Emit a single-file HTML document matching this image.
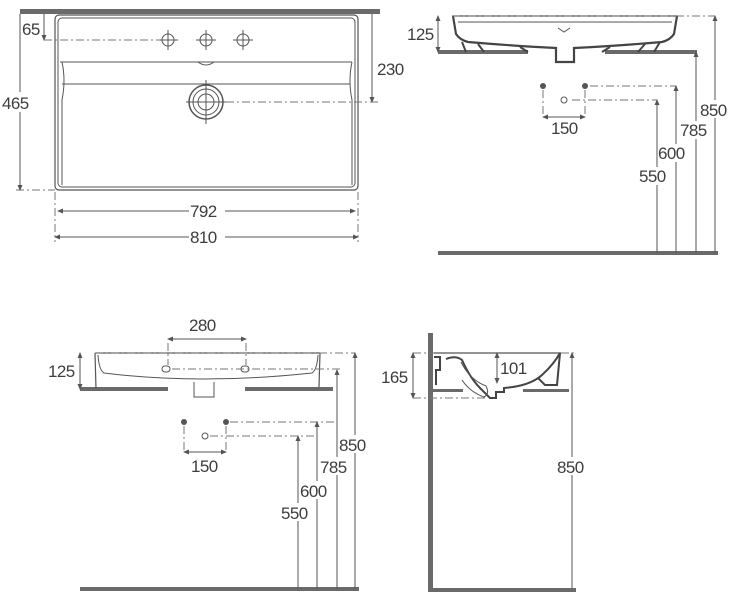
<!DOCTYPE html>
<html><head><meta charset="utf-8"><style>
html,body{margin:0;padding:0;background:#fff}
svg{display:block}
text{font-family:"Liberation Sans",sans-serif;font-size:17px;fill:#3e3e3e;letter-spacing:-0.6px}
.l{stroke:#555;stroke-width:1.2;fill:none}
.t{stroke:#555;stroke-width:1;fill:none}
.d{stroke:#777;stroke-width:1;fill:none;stroke-dasharray:8 3 2 3}
.bar{fill:#6a6a6a}
</style></head><body>
<svg width="734" height="600" viewBox="0 0 734 600" xmlns="http://www.w3.org/2000/svg">
<defs><marker id="a" markerWidth="6" markerHeight="6" refX="5" refY="3" orient="auto-start-reverse"><path d="M0,0.5 L6,3 L0,5.5" fill="#555"/></marker></defs>

<!-- TOP LEFT: plan view -->
<rect class="bar" x="20" y="9" width="360" height="5"/>
<rect class="l" x="55" y="15" width="303" height="175" rx="4"/>
<rect class="t" x="58" y="18" width="297" height="169" rx="4"/>
<path class="t" d="M60,62 L352,62 M62,84 L350,84 M62,62 Q66,80 62,100 L62,185 M352,62 Q348,80 352,100 L352,185"/>
<path class="t" d="M198,62 Q206,68 214,62"/>
<g class="t">
<circle cx="168" cy="40" r="6"/><path d="M158,40h20M168,30v20"/>
<circle cx="206" cy="40" r="6"/><path d="M196,40h20M206,30v20"/>
<circle cx="243" cy="40" r="6"/><path d="M233,40h20M243,30v20"/>
<circle cx="206" cy="102" r="17" stroke-width="1.5"/><circle cx="206" cy="102" r="13"/><circle cx="206" cy="102" r="8"/>
<path d="M186,102h40M206,80v44"/>
</g>
<path class="d" d="M44,40 L160,40 M226,102 L378,102 M16,190 L55,190 M55,192 L55,242 M358,192 L358,242"/>
<line class="t" x1="20" y1="14" x2="20" y2="190" marker-end="url(#a)"/>
<rect x="1" y="92" width="38" height="20" fill="#fff"/><text x="2" y="109">465</text>
<line class="t" x1="44" y1="14" x2="44" y2="40" marker-end="url(#a)"/>
<text x="22" y="35">65</text>
<line class="t" x1="372" y1="14" x2="372" y2="102" marker-end="url(#a)"/>
<text x="377" y="75">230</text>
<line class="t" x1="58" y1="211" x2="355" y2="211" marker-start="url(#a)" marker-end="url(#a)"/>
<rect x="189" y="202" width="36" height="18" fill="#fff"/><text x="190" y="217">792</text>
<line class="t" x1="55" y1="237" x2="358" y2="237" marker-start="url(#a)" marker-end="url(#a)"/>
<rect x="189" y="228" width="36" height="18" fill="#fff"/><text x="190" y="243">810</text>

<!-- TOP RIGHT: front elevation -->
<rect class="bar" x="438" y="50" width="90" height="4"/>
<rect class="bar" x="605" y="50" width="92" height="4"/>
<path class="l" d="M452,16 L678,16"/>
<path d="M453,16 L456,34 Q460,40 468,42 Q515,46 556,48 L556,62 L574,62 L574,48 Q615,46 662,42 Q670,40 674,34 L677,16" fill="none" stroke="#444" stroke-width="2.2"/>
<path d="M462,42 L466,52 M478,44 L484,52 M660,42 L654,52 M645,44 L638,52 M520,47 L528,52 M610,47 L602,52" stroke="#444" stroke-width="2"/>
<path class="t" d="M458,22 L672,22"/>
<path class="t" d="M558,28 L564,32 L570,28" stroke-width="1.5"/>
<path class="d" d="M452,16 L715,16 M590,86 L676,86 M572,100 L657,100 M543,90 L543,117 M585,90 L585,117"/>
<circle cx="543" cy="86" r="3" fill="#555"/><circle cx="585" cy="86" r="3" fill="#555"/>
<circle class="t" cx="564" cy="100" r="3"/>
<line class="t" x1="438" y1="16" x2="438" y2="52" marker-start="url(#a)" marker-end="url(#a)"/>
<text x="407" y="40">125</text>
<line class="t" x1="543" y1="117" x2="585" y2="117" marker-start="url(#a)" marker-end="url(#a)"/>
<text x="551" y="134">150</text>
<rect class="bar" x="438" y="251" width="280" height="4"/>
<line class="t" x1="715" y1="253" x2="715" y2="16" marker-end="url(#a)"/>
<line class="t" x1="696" y1="253" x2="696" y2="52" marker-end="url(#a)"/>
<line class="t" x1="676" y1="253" x2="676" y2="86" marker-end="url(#a)"/>
<line class="t" x1="657" y1="253" x2="657" y2="100" marker-end="url(#a)"/>
<rect x="700" y="100" width="34" height="18" fill="#fff"/><text x="700" y="116">850</text>
<rect x="680" y="121" width="34" height="18" fill="#fff"/><text x="680" y="136">785</text>
<rect x="660" y="144" width="34" height="18" fill="#fff"/><text x="658" y="159">600</text>
<rect x="640" y="167" width="34" height="18" fill="#fff"/><text x="639" y="182">550</text>

<!-- BOTTOM LEFT -->
<rect class="bar" x="80" y="387" width="88" height="4"/>
<rect class="bar" x="245" y="387" width="88" height="4"/>
<path class="l" d="M95,353 L320,353 M95,353 L96,389 M320,353 L319,387"/>
<path class="t" d="M98,355 Q99,370 104,373 Q200,385 312,373 Q317,370 318,355"/>
<path class="t" d="M194,382 L194,397 L214,397 L214,382"/>
<rect class="t" x="162" y="366" width="8" height="6" rx="3"/>
<rect class="t" x="241" y="366" width="8" height="6" rx="3"/>
<path class="d" d="M95,353 L355,353 M172,369 L341,369 M168,343 L168,365 M246,343 L246,365 M230,422 L337,422 M210,436 L317,436 M184,426 L184,452 M226,426 L226,452"/>
<line class="t" x1="168" y1="339" x2="246" y2="339" marker-start="url(#a)" marker-end="url(#a)"/>
<text x="189" y="331">280</text>
<line class="t" x1="80" y1="353" x2="80" y2="389" marker-start="url(#a)" marker-end="url(#a)"/>
<text x="48" y="377">125</text>
<circle cx="184" cy="422" r="3" fill="#555"/><circle cx="226" cy="422" r="3" fill="#555"/>
<circle class="t" cx="205" cy="436" r="3"/>
<line class="t" x1="184" y1="452" x2="226" y2="452" marker-start="url(#a)" marker-end="url(#a)"/>
<text x="191" y="472">150</text>
<rect class="bar" x="80" y="587" width="279" height="4"/>
<line class="t" x1="355" y1="589" x2="355" y2="353" marker-end="url(#a)"/>
<line class="t" x1="337" y1="589" x2="337" y2="370" marker-end="url(#a)"/>
<line class="t" x1="317" y1="589" x2="317" y2="422" marker-end="url(#a)"/>
<line class="t" x1="298" y1="589" x2="298" y2="436" marker-end="url(#a)"/>
<rect x="339" y="435" width="35" height="18" fill="#fff"/><text x="339" y="451">850</text>
<rect x="320" y="457" width="34" height="18" fill="#fff"/><text x="320" y="473">785</text>
<rect x="300" y="481" width="34" height="18" fill="#fff"/><text x="300" y="497">600</text>
<rect x="281" y="503" width="34" height="18" fill="#fff"/><text x="281" y="519">550</text>

<!-- BOTTOM RIGHT: side elevation -->
<rect class="bar" x="428" y="333" width="5" height="259"/>
<rect class="bar" x="428" y="588" width="148" height="4"/>
<rect class="bar" x="433" y="389" width="30" height="3"/>
<rect class="bar" x="523" y="389" width="46" height="3"/>
<path class="l" d="M434,353 L561,353"/>
<path d="M434,357 L440,357 L440,370 L436,370 L436,385 M446,359 Q456,355 462,360 Q470,378 480,388 Q488,396 490,398 L496,398 L496,392 L504,392 L504,388 Q530,386 542,375 Q554,364 560,353 L557,385 L545,385 L538,378" fill="none" stroke="#444" stroke-width="2"/>
<path class="t" d="M461,362 Q470,380 486,386 Q490,394 484,397 Q470,392 462,380"/>
<path class="d" d="M413,353 L434,353 M413,398 L488,398 M561,353 L575,353"/>
<line class="t" x1="413" y1="353" x2="413" y2="398" marker-start="url(#a)" marker-end="url(#a)"/>
<text x="381" y="383">165</text>
<line class="t" x1="497" y1="353" x2="497" y2="383" marker-start="url(#a)" marker-end="url(#a)"/>
<text x="500" y="374">101</text>
<line class="t" x1="572" y1="588" x2="572" y2="353" marker-end="url(#a)"/>
<rect x="556" y="457" width="34" height="18" fill="#fff"/><text x="557" y="473">850</text>
</svg>
</body></html>
